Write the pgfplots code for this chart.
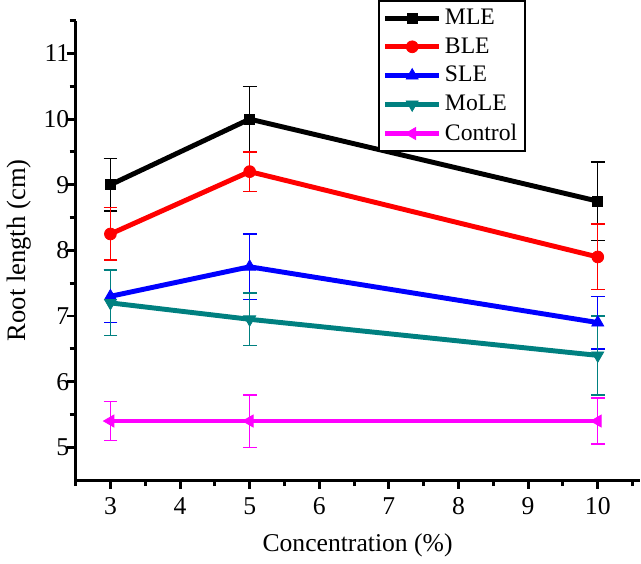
\documentclass[border=0pt]{standalone}
\usepackage{fontspec}
\setmainfont{Liberation Serif}
\usepackage{pgfplots}
\pgfplotsset{compat=1.18}
\definecolor{mteal}{RGB}{0,128,128}
\definecolor{mmag}{RGB}{255,0,255}
\definecolor{mred}{RGB}{255,0,0}
\definecolor{mblue}{RGB}{0,0,255}
\begin{document}
\begin{tikzpicture}
\begin{axis}[
  scale only axis,
  width=286pt, height=233pt,
  xmin=2.5, xmax=10.6, ymin=4.5, ymax=11.5,
  axis x line=bottom, axis y line=left,
  axis line style={line width=1.5pt,-},
  xtick={3,4,...,10}, ytick={5,6,...,11},
  minor xtick={2.5,3.5,...,10.5},
  minor ytick={5.5,6.5,...,11.5},
  tick align=outside,
  major tick length=4.5pt, minor tick length=3pt,
  every tick/.style={black, line width=1.5pt},
  /pgf/number format/assume math mode=true,
  tick label style={font=\fontsize{13}{15}\selectfont, inner sep=1pt},
  yticklabel style={xshift=2.5pt},
  xticklabel style={yshift=-3pt},
  label style={font=\fontsize{13.5}{16}\selectfont},
  xlabel={Concentration (\%)},
  ylabel={Root length (cm)},
  xlabel style={yshift=-5pt, font=\fontsize{13}{16}\selectfont},
  ylabel style={yshift=2pt},
  legend style={at={(0.536,1.045)}, anchor=north west, draw=black, line width=1pt,
    font=\fontsize{12}{14}\selectfont, row sep=1.2pt, inner sep=2pt,
    /tikz/every even column/.append style={column sep=0pt}},
  legend image code/.code={
    \draw[#1, line width=2.5pt] (0cm,0cm) -- (0.95cm,0cm);
    \draw[#1, mark repeat=2, mark phase=2] plot coordinates {(0cm,0cm) (0.48cm,0cm) (0.95cm,0cm)};
  },
  legend cell align=left,
  every axis plot/.append style={line width=2.5pt},
  error bars/error bar style={line width=0.75pt},
  error bars/error mark options={rotate=90, mark size=3.5pt, line width=0.75pt},
]
\addplot[black, mark=square*, mark size=2.6pt, mark options={solid, line width=0.4pt},
  error bars/.cd, y dir=both, y explicit]
  coordinates {(3,9.0) +- (0,0.4) (5,10.0) +- (0,0.5) (10,8.75) +- (0,0.6)};
\addlegendentry{MLE}
\addplot[mred, mark=*, mark size=3pt, mark options={line width=0.4pt},
  error bars/.cd, y dir=both, y explicit]
  coordinates {(3,8.25) +- (0,0.4) (5,9.2) +- (0,0.3) (10,7.9) +- (0,0.5)};
\addlegendentry{BLE}
\addplot[mblue, mark=triangle*, mark size=3.5pt, mark options={line width=0.4pt},
  error bars/.cd, y dir=both, y explicit]
  coordinates {(3,7.3) +- (0,0.4) (5,7.75) +- (0,0.5) (10,6.9) +- (0,0.4)};
\addlegendentry{SLE}
\addplot[mteal, mark=triangle*, mark size=3.5pt, mark options={rotate=180, line width=0.4pt},
  error bars/.cd, y dir=both, y explicit]
  coordinates {(3,7.2) +- (0,0.5) (5,6.95) +- (0,0.4) (10,6.4) +- (0,0.6)};
\addlegendentry{MoLE}
\addplot[mmag, mark=triangle*, mark size=3.5pt, mark options={rotate=90, line width=0.4pt},
  error bars/.cd, y dir=both, y explicit]
  coordinates {(3,5.4) +- (0,0.3) (5,5.4) +- (0,0.4) (10,5.4) +- (0,0.35)};
\addlegendentry{Control}
\end{axis}
\end{tikzpicture}
\end{document}
